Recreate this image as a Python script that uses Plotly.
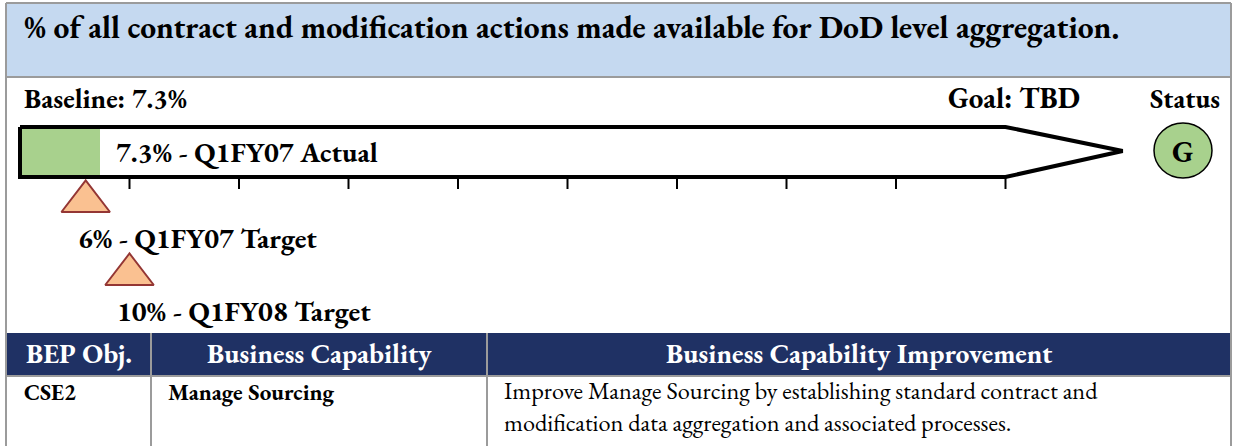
import plotly.graph_objects as go

W, H = 1233, 446

# data
baseline = 7.3
actual_value = 7.3
actual_label = "7.3% - Q1FY07 Actual"
target_values = [6, 10]
target_labels = ["6% - Q1FY07 Target", "10% - Q1FY08 Target"]
tick_values = [10, 20, 30, 40, 50, 60, 70, 80, 90]
goal_text = "Goal: TBD"
status_letter = "G"

table_headers = ["BEP Obj.", "Business Capability", "Business Capability Improvement"]
table_row = ["CSE2", "Manage Sourcing",
             "Improve Manage Sourcing by establishing standard contract and<br>"
             "modification data aggregation and associated processes."]

title = "% of all contract and modification actions made available for DoD level aggregation."

SERIF = "Garamond, 'EB Garamond', 'Liberation Serif', serif"
NAVY = "#1F3164"
GRAY = "#9B9B9B"
GREEN = "#A8D18D"
PEACH = "#FAC191"
DARKRED = "#943634"

# x axis: percent scale, 0% at 20px, 10.95 px per percent
PX_PER = 10.95
X0 = 20
x_range = [-X0 / PX_PER, (W - X0) / PX_PER]
ARROW_END = 90
ARROW_TIP = 100.7


def px(x):
    return x / W


fig = go.Figure()

# green actual bar
fig.add_trace(go.Bar(x=[actual_value], y=[152], base=0, width=47,
                     orientation="h", marker=dict(color=GREEN, line=dict(width=0)),
                     showlegend=False, hoverinfo="skip"))

# arrow outline
fig.add_trace(go.Scatter(x=[0, ARROW_END, ARROW_TIP, ARROW_END, 0, 0],
                         y=[127, 127, 151, 177, 177, 127],
                         mode="lines", line=dict(color="black", width=4),
                         showlegend=False, hoverinfo="skip"))

# tick marks under the arrow
fig.add_trace(go.Scatter(x=tick_values, y=[182] * len(tick_values), mode="markers",
                         marker=dict(symbol="line-ns", size=10,
                                     line=dict(color="black", width=2)),
                         showlegend=False, hoverinfo="skip"))

# target triangles
fig.add_trace(go.Scatter(x=target_values, y=[201.5, 274.5], mode="markers",
                         marker=dict(symbol="triangle-up", size=42, color=PEACH,
                                     line=dict(color=DARKRED, width=2)),
                         showlegend=False, hoverinfo="skip", cliponaxis=False))

shapes = []
# title band
shapes.append(dict(type="rect", xref="paper", yref="y", x0=px(6), x1=px(1231), y0=3, y1=77,
                   fillcolor="#C5D9F0", line=dict(width=0), layer="below"))
# outer frame lines
for x0, y0, x1, y1 in [(6, 3, 1231, 3), (6, 77, 1231, 77), (6, 3, 6, 446), (1231, 3, 1231, 446)]:
    shapes.append(dict(type="line", xref="paper", yref="y", x0=px(x0), x1=px(x1), y0=y0, y1=y1,
                       line=dict(color=GRAY, width=2)))
# table header
shapes.append(dict(type="rect", xref="paper", yref="y", x0=px(6), x1=px(1231), y0=333, y1=375,
                   fillcolor=NAVY, line=dict(width=0), layer="below"))
shapes.append(dict(type="line", xref="paper", yref="y", x0=px(6), x1=px(1231), y0=376, y1=376,
                   line=dict(color=GRAY, width=2)))
for xc in [151, 487]:
    shapes.append(dict(type="line", xref="paper", yref="y", x0=px(xc), x1=px(xc), y0=333, y1=446,
                       line=dict(color=GRAY, width=2)))
# status circle
shapes.append(dict(type="circle", xref="paper", yref="y", x0=px(1154), x1=px(1212), y0=123, y1=178,
                   fillcolor=GREEN, line=dict(color="black", width=1.5)))
fig.update_layout(shapes=shapes)

ann = []


def text(x, y, s, size, bold=True, color="black", anchor="left", xref="paper", xshift=0):
    ann.append(dict(x=px(x) if xref == "paper" else x, y=y, xref=xref, yref="y",
                    text=f"<b>{s}</b>" if bold else s, showarrow=False,
                    xanchor=anchor, yanchor="middle", xshift=xshift, align="left",
                    font=dict(family=SERIF, size=size, color=color)))


text(22, 27, title, 31.5)
text(22, 98, f"Baseline: {baseline}%", 27.5)
text(946, 98, goal_text, 29)
text(1148, 98, "Status", 27)
text(1183, 151, status_letter, 30, anchor="center")

text(actual_value, 152, actual_label, 28, xref="x", xshift=14)
text(target_values[0], 238, target_labels[0], 28, xref="x", xshift=-10)
text(target_values[1], 311, target_labels[1], 28, xref="x", xshift=-15)

for xc, h in zip([79, 319, 859], table_headers):
    text(xc, 353, h, 27.5, color="white", anchor="center")
text(22, 392, table_row[0], 22.5)
text(166, 392, table_row[1], 23)
ann.append(dict(x=px(502), y=406, xref="paper", yref="y", text=table_row[2], showarrow=False,
                xanchor="left", yanchor="middle", align="left",
                font=dict(family=SERIF, size=24.3, color="black")))

fig.update_layout(annotations=ann)

fig.update_layout(
    width=W, height=H,
    margin=dict(l=0, r=0, t=0, b=0),
    paper_bgcolor="white", plot_bgcolor="white",
    xaxis=dict(range=x_range, visible=False, fixedrange=True),
    yaxis=dict(range=[H, 0], visible=False, fixedrange=True),
    bargap=0, hovermode=False,
)

fig.write_html("out.html", config={"displayModeBar": False},
               post_script="document.body.style.margin='0';")
